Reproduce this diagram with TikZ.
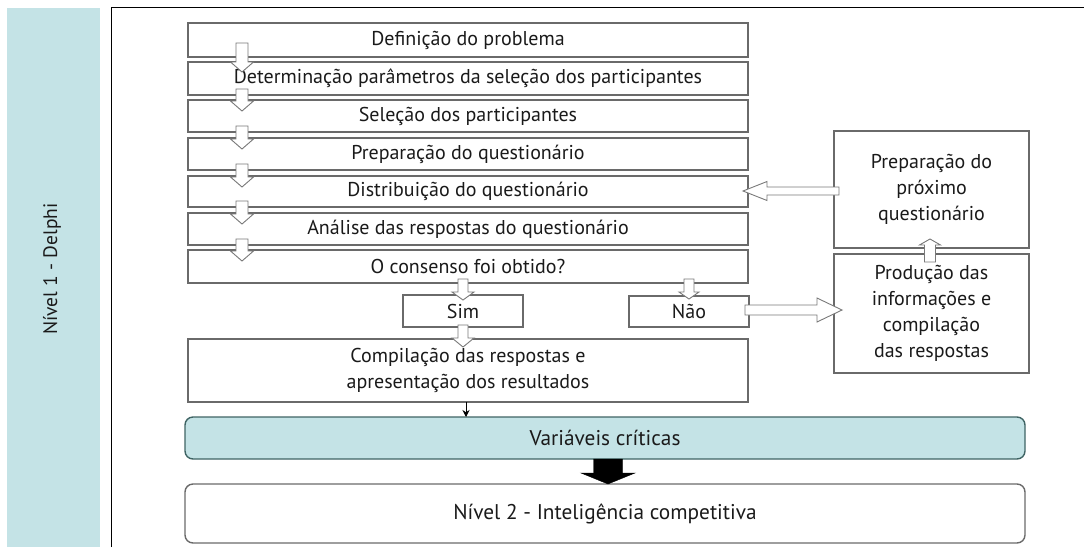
\documentclass[tikz,border=0pt]{standalone}
\usepackage{fontspec}
\setmainfont{PT Sans}
\usetikzlibrary{calc,arrows.meta}
\definecolor{lblue}{HTML}{C4E3E6}
\definecolor{bord}{HTML}{6A6A6A}
\definecolor{txt}{HTML}{1A1A1A}
\definecolor{teal}{HTML}{3F6464}
\newcommand\blockarr[6][]{%
  \coordinate (hb) at ($(#3)!#6!(#2)$);
  \draw[#1] ($(#2)!#4!90:(#3)$) -- ($(hb)!#4!-90:(#2)$) -- ($(hb)!#5!-90:(#2)$) -- (#3)
    -- ($(hb)!#5!90:(#2)$) -- ($(hb)!#4!90:(#2)$) -- ($(#2)!#4!-90:(#3)$) -- cycle;
}
\tikzset{
  box/.style={draw=bord, line width=1.4pt, fill=white, inner sep=0pt, outer sep=0pt,
    text=txt, font=\fontsize{20}{26}\selectfont, align=center},
  rbox/.style={box, rounded corners=8pt, font=\fontsize{21.3}{26}\selectfont},
  hollow/.style={draw=bord!90, line width=0.9pt, fill=white, line join=miter},
  solidarr/.style={draw=black, fill=black},
}
\begin{document}
\begin{tikzpicture}[x=1pt,y=-1pt]
\useasboundingbox (0,0) rectangle (1084,547);
% left strip and frame
\fill[lblue] (7,8) rectangle (100,547);
\node[rotate=90, text=txt, font=\fontsize{19.5}{22}\selectfont] (lvl) at (52,269) {Nível 1 - Delphi};
\draw[black, line width=1pt] (111,547) -- (111,7.5) -- (1084,7.5);
% main column
\node[box, minimum width=560pt, minimum height=34pt] (b1) at (468,40) {Definição do problema};
\node[box, minimum width=560pt, minimum height=33pt] (b2) at (468,78.5) {Determinação parâmetros da seleção dos participantes};
\node[box, minimum width=560pt, minimum height=32pt] (b3) at (468,116) {Seleção dos participantes};
\node[box, minimum width=560pt, minimum height=32pt] (b4) at (468,154) {Preparação do questionário};
\node[box, minimum width=560pt, minimum height=31pt] (b5) at (468,191.5) {Distribuição do questionário};
\node[box, minimum width=560pt, minimum height=32pt] (b6) at (468,229) {Análise das respostas do questionário};
\node[box, minimum width=560pt, minimum height=33pt] (b7) at (468,266.5) {O consenso foi obtido?};
\node[box, minimum width=120pt, minimum height=32pt] (sim) at (463,311) {Sim};
\node[box, minimum width=120pt, minimum height=31pt] (nao) at (689,311.5) {Não};
\node[box, minimum width=560pt, minimum height=63pt] (comp) at (468,370.5) {Compilação das respostas e\\apresentação dos resultados};
% right column
\node[box, minimum width=195pt, minimum height=117pt] (prep) at (931.5,189.5) {Preparação do\\próximo\\questionário};
\node[box, minimum width=195pt, minimum height=119pt] (prod) at (931.5,313.5) {Produção das\\informações e\\compilação\\das respostas};
% bottom
\node[rbox, draw=teal, fill=lblue, minimum width=840pt, minimum height=42pt] (var) at (605,438) {Variáveis críticas};
\node[rbox, minimum width=840pt, minimum height=59pt] (niv) at (605,513.5) {Nível 2 - Inteligência competitiva};
% column arrows
\coordinate (s0) at ($(b1.south west)+(54,-14)$);
\coordinate (e0) at ($(b2.north west)+(54,10)$);
\blockarr[hollow]{s0}{e0}{6pt}{11.5pt}{10pt}
\foreach \u/\v in {b2/b3,b3/b4,b4/b5,b5/b6,b6/b7}{
  \coordinate (s) at ($(\u.south west)+(54,-6)$);
  \coordinate (e) at ($(\v.north west)+(54,11)$);
  \blockarr[hollow]{s}{e}{6pt}{11.5pt}{10pt}
}
% consenso -> sim / nao
\coordinate (s1) at ($(b7.south west)+(275,-4)$);
\coordinate (e1) at ($(sim.north)+(0,5)$);
\blockarr[hollow]{s1}{e1}{5pt}{11pt}{8pt}
\coordinate (s2) at ($(sim.south)+(0,-2)$);
\coordinate (e2) at ($(comp.north west)+(275,8)$);
\blockarr[hollow]{s2}{e2}{5pt}{11pt}{9pt}
\coordinate (s3) at ($(b7.south west)+(501,-4)$);
\coordinate (e3) at ($(nao.north)+(0,3)$);
\blockarr[hollow]{s3}{e3}{5pt}{10pt}{7pt}
% nao -> producao
\coordinate (s4) at ($(nao.east)+(-4,-1.5)$);
\coordinate (e4) at ($(prod.west)+(8,-3.5)$);
\blockarr[hollow]{s4}{e4}{5pt}{12pt}{25pt}
% producao -> preparacao
\coordinate (s5) at ($(prod.north)+(-1.5,8)$);
\coordinate (e5) at ($(prep.south)+(-1.5,-9)$);
\blockarr[hollow]{s5}{e5}{5.5pt}{10.5pt}{6pt}
% preparacao -> distribuicao
\coordinate (s6) at ($(prep.west)+(5,1.5)$);
\coordinate (e6) at ($(b5.east)+(-5,-0.5)$);
\blockarr[hollow]{s6}{e6}{4pt}{9.5pt}{24pt}
% compilacao -> variaveis
\coordinate (s7) at ($(comp.south west)+(278,0)$);
\draw[line width=0.9pt, -{Stealth[length=7pt,width=7pt]}] (s7) -- (s7 |- var.north);
% variaveis -> nivel 2
\coordinate (s8) at ($(var.south)+(3,0)$);
\coordinate (e8) at (s8 |- niv.north);
\blockarr[solidarr]{s8}{e8}{14.5pt}{27pt}{11pt}
\end{tikzpicture}
\end{document}
